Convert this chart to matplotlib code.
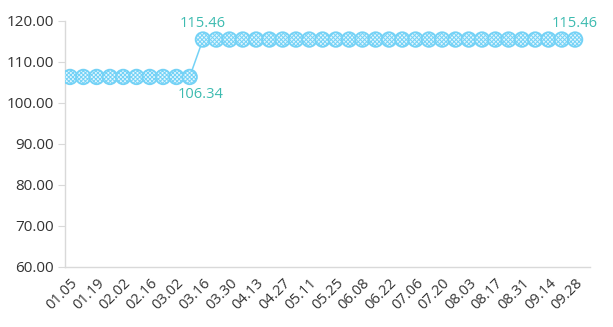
import matplotlib
matplotlib.use("Agg")
import matplotlib.pyplot as plt

dates = ["01.05","01.12","01.19","01.26","02.02","02.09","02.16","02.23","03.02","03.09",
         "03.16","03.23","03.30","04.06","04.13","04.20","04.27","05.04","05.11","05.18",
         "05.25","06.01","06.08","06.15","06.22","06.29","07.06","07.13","07.20","07.27",
         "08.03","08.10","08.17","08.24","08.31","09.07","09.14","09.21","09.28"]
values = [106.34]*10 + [115.46]*29
y_ticks = [60, 70, 80, 90, 100, 110, 120]

plt.rcParams['font.family'] = ['Open Sans', 'DejaVu Sans']
plt.rcParams['hatch.linewidth'] = 0.7

fig = plt.figure(figsize=(6.13, 3.27), dpi=100)
ax = fig.add_axes([0.106, 0.1835, 0.856, 0.7525])

x = list(range(len(values)))
line_c = '#74d2f6'
ax.plot(x, values, color=line_c, lw=1.1, zorder=2)
ax.scatter(x, values, s=110, facecolor='#e3f6fe', edgecolor=line_c, hatch='xxxxxxxx',
           linewidths=1.3, zorder=3)

lab_c = '#3dbbb0'
fs_lab = 10.5
ax.annotate("106.34", (9, values[9]), xytext=(8, -7), textcoords='offset points',
            ha='center', va='top', color=lab_c, fontsize=fs_lab)
ax.annotate("115.46", (10, values[10]), xytext=(0, 6), textcoords='offset points',
            ha='center', va='bottom', color=lab_c, fontsize=fs_lab)
ax.annotate("115.46", (38, values[38]), xytext=(0, 6), textcoords='offset points',
            ha='center', va='bottom', color=lab_c, fontsize=fs_lab)

ax.set_xlim(-0.38, 39.1)
ax.set_ylim(60, 120)
ax.set_yticks(y_ticks)
ax.set_yticklabels([f"{v:.2f}" for v in y_ticks])
ax.set_xticks(x[::2])
ax.set_xticklabels(dates[::2], rotation=45, ha='right', rotation_mode='anchor')

for s in ['top', 'right']:
    ax.spines[s].set_visible(False)
for s in ['left', 'bottom']:
    ax.spines[s].set_color('#d9d9d9')
    ax.spines[s].set_linewidth(1)
ax.tick_params(axis='y', length=5, color='#d9d9d9', labelsize=11, labelcolor='#333333', pad=3)
ax.tick_params(axis='x', length=0, labelsize=10.5, labelcolor='#333333', pad=6)

fig.savefig("out.png", dpi=100)
